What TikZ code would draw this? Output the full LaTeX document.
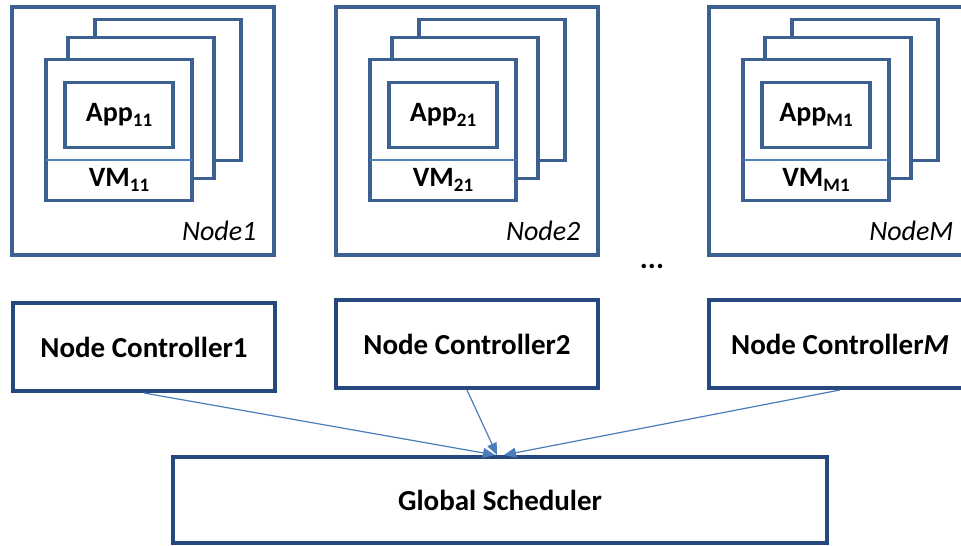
\documentclass[tikz,border=0pt]{standalone}
\usepackage{fontspec}
\setmainfont{Carlito}
\usetikzlibrary{positioning,arrows.meta}

\definecolor{hostblue}{RGB}{60,96,146}
\definecolor{ctrlblue}{RGB}{37,72,125}
\definecolor{splitblue}{RGB}{79,129,189}
\definecolor{linkblue}{RGB}{74,126,187}

\newcommand{\lowidx}[1]{\raisebox{-0.35ex}{\fontsize{19}{21}\selectfont #1}}

\tikzset{
  host/.style={draw=hostblue, line width=3.2pt, minimum width=262pt, minimum height=248pt, inner sep=0pt},
  vmcard/.style={draw=hostblue, fill=white, line width=3.2pt, minimum width=146pt, minimum height=141pt, inner sep=0pt, outer sep=0pt},
  appbox/.style={draw=hostblue, line width=3.2pt, minimum width=108pt, minimum height=65pt, inner sep=0pt, font=\fontsize{28}{32}\selectfont\bfseries},
  vmlabel/.style={inner sep=0pt, font=\fontsize{28}{32}\selectfont\bfseries},
  hostlabel/.style={inner sep=0pt, anchor=base east, font=\fontsize{28}{32}\selectfont\itshape},
  ctrl/.style={draw=ctrlblue, line width=4pt, minimum width=262pt, minimum height=88pt, font=\fontsize{29}{34}\selectfont\bfseries},
  split/.style={draw=splitblue, line width=2.5pt},
  link/.style={draw=linkblue, line width=1.2pt, -{Triangle[length=12pt,width=10pt]}}
}

\begin{document}
\begin{tikzpicture}[x=1pt, y=-1pt]
		\useasboundingbox (0,0) rectangle (961,546);

		% first physical node
		\node[host] (node1) at (143,131) {};
		\node[vmcard] (back1) at ([shift={(25,-41)}]node1.center) {};
		\node[vmcard] (mid1) at ([shift={(-2,-23)}]node1.center) {};
		\node[vmcard] (card1) at ([shift={(-24,-1)}]node1.center) {};
		\node[appbox, below=21pt of card1.north] (app1) {App\lowidx{11}};
		\draw[split] ([yshift=-30pt]card1.west) -- ([yshift=-30pt]card1.east);
		\node[vmlabel] (vm1) at ([yshift=-50pt]card1.center) {VM\lowidx{11}};
		\node[hostlabel] (name1) at ([xshift=-19pt, yshift=16pt]node1.south east) {Node1};

		% second physical node
		\node[host] (node2) at (467,131) {};
		\node[vmcard] (back2) at ([shift={(25,-41)}]node2.center) {};
		\node[vmcard] (mid2) at ([shift={(-2,-23)}]node2.center) {};
		\node[vmcard] (card2) at ([shift={(-24,-1)}]node2.center) {};
		\node[appbox, below=21pt of card2.north] (app2) {App\lowidx{21}};
		\draw[split] ([yshift=-30pt]card2.west) -- ([yshift=-30pt]card2.east);
		\node[vmlabel] (vm2) at ([yshift=-50pt]card2.center) {VM\lowidx{21}};
		\node[hostlabel] (name2) at ([xshift=-19pt, yshift=16pt]node2.south east) {Node2};

		% last physical node, cut by the right margin
		\node[host] (nodeM) at (840,131) {};
		\node[vmcard] (backM) at ([shift={(25,-41)}]nodeM.center) {};
		\node[vmcard] (midM) at ([shift={(-2,-23)}]nodeM.center) {};
		\node[vmcard] (cardM) at ([shift={(-24,-1)}]nodeM.center) {};
		\node[appbox, below=21pt of cardM.north] (appM) {App\lowidx{M1}};
		\draw[split] ([yshift=-30pt]cardM.west) -- ([yshift=-30pt]cardM.east);
		\node[vmlabel] (vmM) at ([yshift=-50pt]cardM.center) {VM\lowidx{M1}};
		\node[hostlabel] (nameM) at ([xshift=-19pt, yshift=16pt]nodeM.south east) {NodeM};

		\node[font=\fontsize{30}{34}\selectfont\bfseries] (dots) at (652,266) {...};

		% controllers and scheduler
		\node[ctrl] (ctrl1) at (144,347) {Node Controller1};
		\node[ctrl] (ctrl2) at (467,344) {Node Controller2};
		\node[ctrl] (ctrlM) at (840,344) {Node Controller\textit{M}};
		\node[ctrl, minimum width=654pt, minimum height=86pt] (sched) at (500,500) {Global Scheduler};

		\draw[link] (ctrl1.south) -- ([xshift=-5pt]sched.north);
		\draw[link] (ctrl2.south) -- ([xshift=-3pt]sched.north);
		\draw[link] (ctrlM.south) -- ([xshift=4pt]sched.north);

	\end{tikzpicture}
\end{document}
